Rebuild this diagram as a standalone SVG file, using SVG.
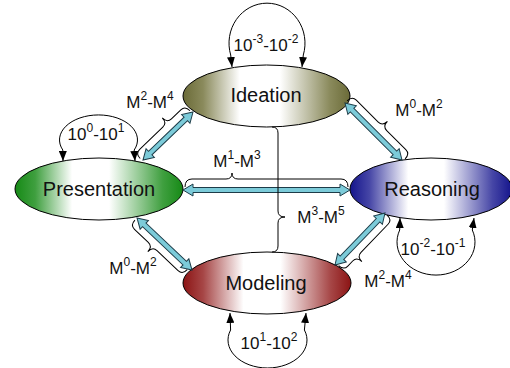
<svg xmlns="http://www.w3.org/2000/svg" width="510" height="368" viewBox="0 0 510 368">
<defs>
<linearGradient id="gI" x1="0" y1="0" x2="1" y2="0"><stop offset="0" stop-color="#6b6b38"/><stop offset="0.12" stop-color="#8a8a5c"/><stop offset="0.34" stop-color="#ffffff"/><stop offset="0.58" stop-color="#ffffff"/><stop offset="0.88" stop-color="#8a8a5c"/><stop offset="1" stop-color="#6b6b38"/></linearGradient>
<linearGradient id="gP" x1="0" y1="0" x2="1" y2="0"><stop offset="0" stop-color="#168a16"/><stop offset="0.12" stop-color="#3f9f3f"/><stop offset="0.34" stop-color="#ffffff"/><stop offset="0.56" stop-color="#ffffff"/><stop offset="0.88" stop-color="#3f9f3f"/><stop offset="1" stop-color="#168a16"/></linearGradient>
<linearGradient id="gR" x1="0" y1="0" x2="1" y2="0"><stop offset="0" stop-color="#14148c"/><stop offset="0.12" stop-color="#4646a6"/><stop offset="0.36" stop-color="#ffffff"/><stop offset="0.58" stop-color="#ffffff"/><stop offset="0.88" stop-color="#4646a6"/><stop offset="1" stop-color="#14148c"/></linearGradient>
<linearGradient id="gM" x1="0" y1="0" x2="1" y2="0"><stop offset="0" stop-color="#8c1414"/><stop offset="0.12" stop-color="#a64646"/><stop offset="0.36" stop-color="#ffffff"/><stop offset="0.58" stop-color="#ffffff"/><stop offset="0.88" stop-color="#a64646"/><stop offset="1" stop-color="#8c1414"/></linearGradient>
<marker id="ah" viewBox="0 0 10 8" refX="10" refY="4" markerWidth="10" markerHeight="8" markerUnits="userSpaceOnUse" orient="auto-start-reverse"><path d="M0,0 L10,4 L0,8 z" fill="#000"/></marker>
</defs>
<style>
.node ellipse{stroke:#000;stroke-width:1}
.nl{font-family:"Liberation Sans",Arial,sans-serif;font-size:20px;text-anchor:middle;fill:#111}
.lb{font-family:"Liberation Sans",Arial,sans-serif;font-size:17px;text-anchor:middle;fill:#111}
.sp{font-size:12px}
.loop{fill:none;stroke:#000;stroke-width:1;marker-start:url(#ah);marker-end:url(#ah)}
.arr{fill:#7ccbd9;stroke:#1d3c48;stroke-width:1;stroke-linejoin:miter}
.br{fill:none;stroke:#000;stroke-width:1}
</style>
<g id="ideation" class="node"><ellipse cx="266.5" cy="96" rx="83.5" ry="31" fill="url(#gI)"/><text class="nl" x="266" y="102">Ideation</text></g>
<g id="presentation" class="node"><ellipse cx="99" cy="189" rx="84" ry="31" fill="url(#gP)"/><text class="nl" x="99" y="196">Presentation</text></g>
<g id="reasoning" class="node"><ellipse cx="431" cy="189" rx="81" ry="31" fill="url(#gR)"/><text class="nl" x="432" y="196">Reasoning</text></g>
<g id="modeling" class="node"><ellipse cx="267" cy="283" rx="84" ry="31" fill="url(#gM)"/><text class="nl" x="266" y="290">Modeling</text></g>
<g id="connectors">
<path class="loop" d="M232,67 L230.7,55 A38 40 0 1 1 303.3,55 L302,67"/>
<path class="loop" d="M63,161 L62.8,150 A39 25 0 1 1 134.2,150 L135,161"/>
<path class="loop" d="M400,218 L399.7,230 A39 33 0 1 0 472.3,230 L474,218"/>
<path class="loop" d="M230,313 L230.6,330 A39.5 28 0 1 0 304.4,330 L306,313"/>
<g transform="translate(143,160) rotate(-43.8)"><path class="arr" d="M0,0 L10,-6 L10,-2.5 L59.3,-2.5 L59.3,-6 L69.3,0 L59.3,6 L59.3,2.5 L10,2.5 L10,6 Z"/><path class="br" d="M-1,-3 Q-1,-10 5,-10 L37,-10 Q43,-10 43,-17 Q43,-10 49,-10 L62,-10 Q68,-10 68,-3"/></g>
<g transform="translate(345,103) rotate(45)"><path class="arr" d="M0,0 L10,-6 L10,-2.5 L70.6,-2.5 L70.6,-6 L80.6,0 L70.6,6 L70.6,2.5 L10,2.5 L10,6 Z"/><path class="br" d="M0,-3 Q0,-10 6,-10 L37,-10 Q43,-10 43,-17 Q43,-10 49,-10 L76,-10 Q82,-10 82,-3"/></g>
<g transform="translate(183,190)"><path class="arr" d="M0,0 L10,-6 L10,-2.5 L157,-2.5 L157,-6 L167,0 L157,6 L157,2.5 L10,2.5 L10,6 Z"/><path class="br" d="M2,-3 Q2,-11 9,-11 L43,-11 Q49,-11 49,-17 Q49,-11 55,-11 L158,-11 Q165,-11 165,-3"/></g>
<g transform="translate(137,218) rotate(43.4)"><path class="arr" d="M0,0 L10,-6 L10,-2.5 L65.7,-2.5 L65.7,-6 L75.7,0 L65.7,6 L65.7,2.5 L10,2.5 L10,6 Z"/><path class="br" d="M0,3 Q0,10 6,10 L25,10 Q31,10 31,17 Q31,10 37,10 L66,10 Q72,10 72,3"/></g>
<g transform="translate(385,213) rotate(133.9)"><path class="arr" d="M0,0 L10,-6 L10,-2.5 L62.1,-2.5 L62.1,-6 L72.1,0 L62.1,6 L62.1,2.5 L10,2.5 L10,6 Z"/><path class="br" d="M0,-3 Q0,-10 6,-10 L45,-10 Q51,-10 51,-17 Q51,-10 57,-10 L64,-10 Q70,-10 70,-3"/></g>
<path class="br" d="M272,127 Q278,127 278,133 L278,211 Q278,217 285,217 Q278,217 278,223 L278,246 Q278,252 272,252"/>
</g>
<g id="labels">
<text class="lb" x="266" y="51">10<tspan class="sp" dy="-8">-3</tspan><tspan dy="8">-10</tspan><tspan class="sp" dy="-8">-2</tspan></text>
<text class="lb" x="96" y="140">10<tspan class="sp" dy="-8">0</tspan><tspan dy="8">-10</tspan><tspan class="sp" dy="-8">1</tspan></text>
<text class="lb" x="433" y="255">10<tspan class="sp" dy="-8">-2</tspan><tspan dy="8">-10</tspan><tspan class="sp" dy="-8">-1</tspan></text>
<text class="lb" x="269" y="349">10<tspan class="sp" dy="-8">1</tspan><tspan dy="8">-10</tspan><tspan class="sp" dy="-8">2</tspan></text>
<text class="lb" x="150" y="108">M<tspan class="sp" dy="-8">2</tspan><tspan dy="8">-M</tspan><tspan class="sp" dy="-8">4</tspan></text>
<text class="lb" x="419" y="116">M<tspan class="sp" dy="-8">0</tspan><tspan dy="8">-M</tspan><tspan class="sp" dy="-8">2</tspan></text>
<text class="lb" x="237" y="167">M<tspan class="sp" dy="-8">1</tspan><tspan dy="8">-M</tspan><tspan class="sp" dy="-8">3</tspan></text>
<text class="lb" x="321" y="223">M<tspan class="sp" dy="-8">3</tspan><tspan dy="8">-M</tspan><tspan class="sp" dy="-8">5</tspan></text>
<text class="lb" x="133" y="274">M<tspan class="sp" dy="-8">0</tspan><tspan dy="8">-M</tspan><tspan class="sp" dy="-8">2</tspan></text>
<text class="lb" x="388" y="287">M<tspan class="sp" dy="-8">2</tspan><tspan dy="8">-M</tspan><tspan class="sp" dy="-8">4</tspan></text>
</g>
</svg>
